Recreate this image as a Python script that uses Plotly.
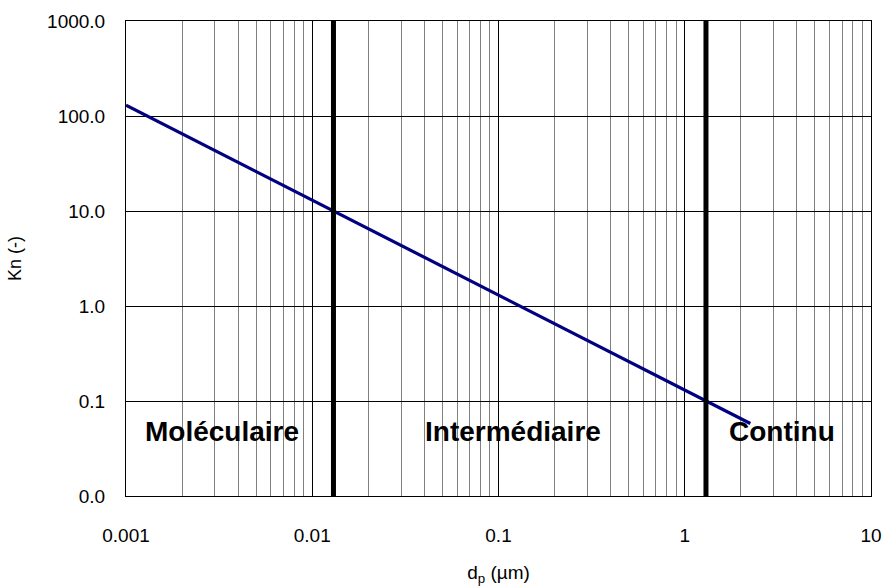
import numpy as np
import plotly.graph_objects as go

# Particle diameter (µm) and Knudsen number
dp_um = [0.001, 0.002, 0.003, 0.005, 0.01, 0.013, 0.02, 0.05, 0.1, 0.2, 0.5, 1.0, 1.3, 2.25]
kn = [130, 65, 43, 26, 13, 10, 6.5, 2.6, 1.3, 0.65, 0.26, 0.13, 0.1, 0.058]

# Regime boundaries (µm)
boundaries = [0.013, 1.3]

# Regime labels and their left-edge positions (µm)
regime_labels = ["Moléculaire", "Intermédiaire", "Continu"]
regime_x = [0.00123, 0.0394, 1.69]
regime_y = 0.0483

x_tickvals = [0.001, 0.01, 0.1, 1, 10]
x_ticktext = ["0.001", "0.01", "0.1", "1", "10"]
y_tickvals = [0.01, 0.1, 1, 10, 100, 1000]
y_ticktext = ["0.0", "0.1", "1.0", "10.0", "100.0", "1000.0"]

FONT = "Liberation Sans, Arial, sans-serif"

minor_x = [m * 10.0 ** e for e in range(-3, 1) for m in range(2, 10)]

fig = go.Figure()

fig.add_trace(go.Scatter(x=dp_um, y=kn, mode="lines",
                         line=dict(color="#000080", width=3.2), hoverinfo="skip"))

for b in boundaries:
    fig.add_trace(go.Scatter(x=[b, b], y=[y_tickvals[0], y_tickvals[-1]], mode="lines",
                             line=dict(color="black", width=5), hoverinfo="skip"))

for lab, xv in zip(regime_labels, regime_x):
    fig.add_annotation(x=np.log10(xv), y=np.log10(regime_y), xref="x", yref="y",
                       text=f"<b>{lab}</b>", showarrow=False, xanchor="left", yanchor="middle",
                       font=dict(family=FONT, size=28, color="black"))

fig.update_xaxes(type="log", range=[-3, 1], tickvals=x_tickvals, ticktext=x_ticktext,
                 showgrid=True, gridcolor="black", gridwidth=1,
                 minor=dict(tickvals=minor_x, showgrid=True, gridcolor="#808080", gridwidth=1),
                 showline=True, linecolor="black", linewidth=1, mirror=True,
                 ticks="", ticklabelstandoff=22, automargin=False,
                 tickfont=dict(family=FONT, size=19, color="black"),
                 title=dict(text="d<sub>p</sub> (µm)", font=dict(family=FONT, size=19, color="black"),
                            standoff=24),
                 zeroline=False)

fig.update_yaxes(type="log", range=[-2, 3], tickvals=y_tickvals, ticktext=y_ticktext,
                 showgrid=True, gridcolor="black", gridwidth=1,
                 showline=True, linecolor="black", linewidth=1, mirror=True,
                 ticks="", ticklabelstandoff=16, automargin=False,
                 tickfont=dict(family=FONT, size=19, color="black"),
                 title=dict(text="Kn (-)", font=dict(family=FONT, size=18, color="black"),
                            standoff=20),
                 zeroline=False)

fig.update_layout(width=883, height=586, showlegend=False, hovermode=False,
                  margin=dict(l=126, r=12, t=21, b=90),
                  plot_bgcolor="white", paper_bgcolor="white",
                  font=dict(family=FONT, color="black"))

fig.write_html("out.html", config={"displayModeBar": False},
               post_script="document.body.style.margin='0';document.body.style.overflow='hidden';")
